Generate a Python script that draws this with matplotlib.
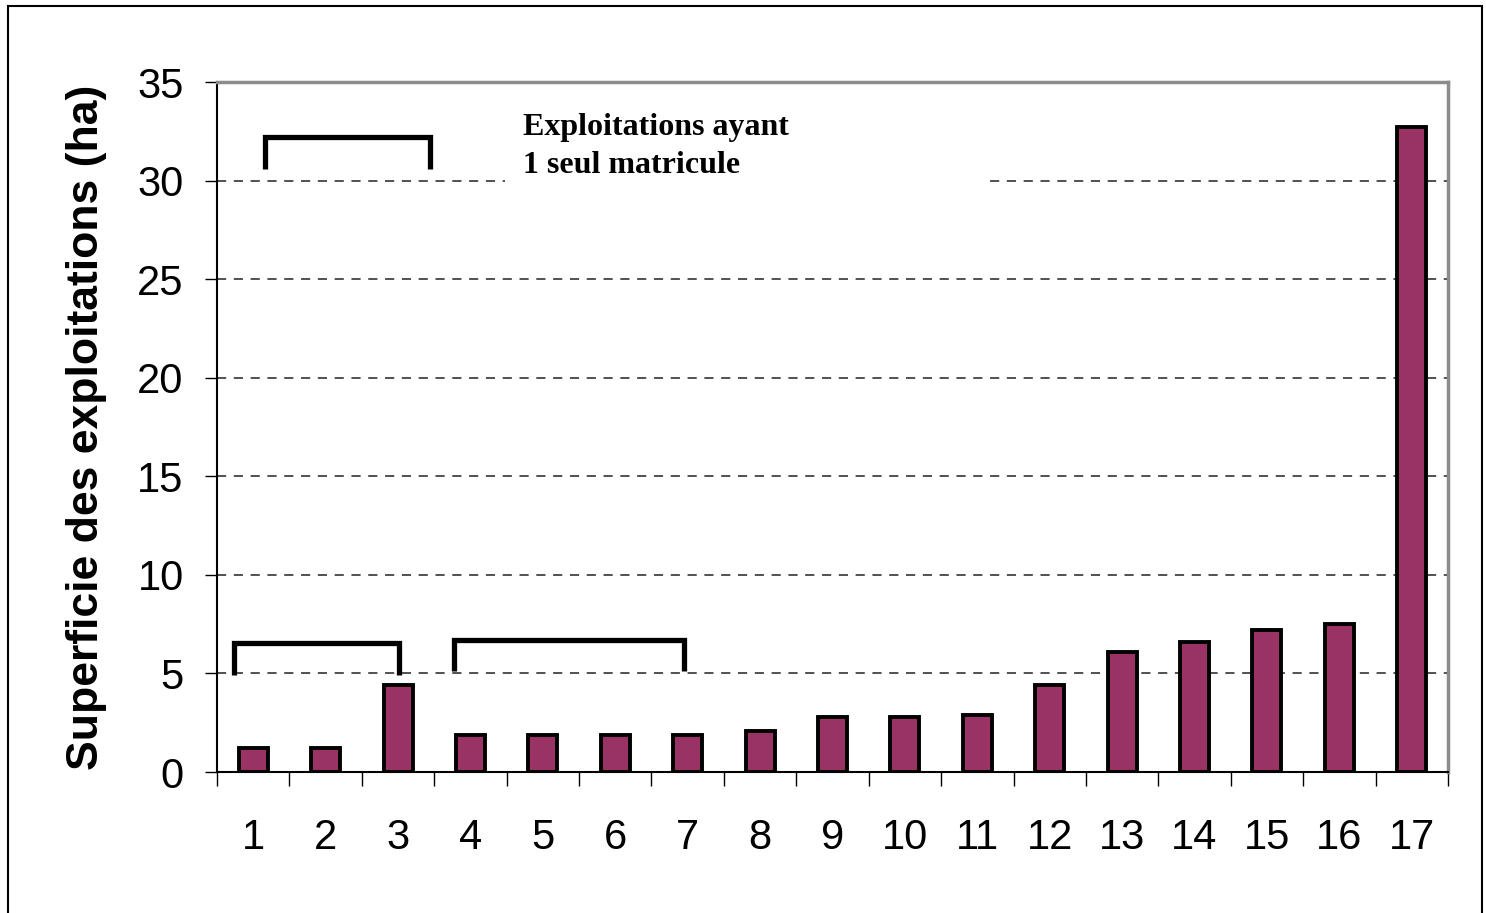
import numpy as np
import matplotlib.pyplot as plt
from matplotlib.patches import Rectangle

# Surface of each farm (ha)
exploitations = [str(i) for i in range(1, 18)]
superficie = [1.2, 1.2, 4.4, 1.9, 1.9, 1.9, 1.9, 2.1, 2.8, 2.8, 2.9,
              4.4, 6.1, 6.6, 7.2, 7.5, 32.7]

fig = plt.figure(figsize=(14.86, 9.13), dpi=100)
ax = fig.add_axes([217 / 1486, 1 - 772 / 913, (1448 - 217) / 1486, (772 - 82) / 913])

x = np.arange(len(exploitations))
ax.bar(x, superficie, width=0.4, color='#993366', edgecolor='black',
       linewidth=2.8, zorder=3)

ax.set_xlim(-0.5, len(exploitations) - 0.5)
ax.set_ylim(0, 35)
ax.set_yticks(np.arange(0, 36, 5))
ax.set_xticks(x)
ax.set_xticklabels(exploitations)
ax.set_xticks(np.arange(-0.5, len(exploitations)), minor=True)
ax.tick_params(axis='x', which='major', length=0, pad=33, labelsize=30)
ax.tick_params(axis='x', which='minor', length=10, width=1, direction='out')
ax.tick_params(axis='y', length=9, width=1, direction='out', pad=15, labelsize=30)
for lab in ax.get_xticklabels() + ax.get_yticklabels():
    lab.set_family('Liberation Sans')

# Dashed gridlines
ax.set_axisbelow(True)
ax.yaxis.grid(True, linestyle=(0, (6, 5)), color='#222222', linewidth=1.1)

ax.spines['left'].set_linewidth(1.5)
ax.spines['bottom'].set_linewidth(1.5)
for s in ['top', 'right']:
    ax.spines[s].set_color('#8c8c8c')
    ax.spines[s].set_linewidth(2.5)

ax.set_ylabel('Superficie des exploitations (ha)', fontsize=32, fontweight='bold',
              family='Liberation Sans', labelpad=22)

# Brackets grouping the farms
def bracket(x0, x1, ytop, ybot):
    ax.plot([x0, x0, x1, x1], [ybot, ytop, ytop, ybot], color='black',
            linewidth=3.8, solid_capstyle='butt', solid_joinstyle='miter',
            zorder=4, clip_on=False)

bracket(0.16, 2.44, 32.2, 30.6)
bracket(-0.27, 2.01, 6.55, 4.9)
bracket(2.77, 5.95, 6.7, 5.1)

# Legend text with white box hiding the gridline
ax.add_patch(Rectangle((3.48, 29.5), 6.63, 4.8, facecolor='white',
                       edgecolor='none', zorder=2))
ax.text(3.72, 33.45, 'Exploitations ayant\n1 seul matricule', fontsize=23,
        fontweight='bold', family='Liberation Serif', va='top', ha='left',
        linespacing=1.45, zorder=5)

# Outer frame
fig.patches.append(Rectangle((8 / 1486, -0.05), (1482 - 8) / 1486, 1.05 - 6 / 913,
                             transform=fig.transFigure, fill=False,
                             edgecolor='black', linewidth=1.5))

fig.savefig('out.png', dpi=100)
